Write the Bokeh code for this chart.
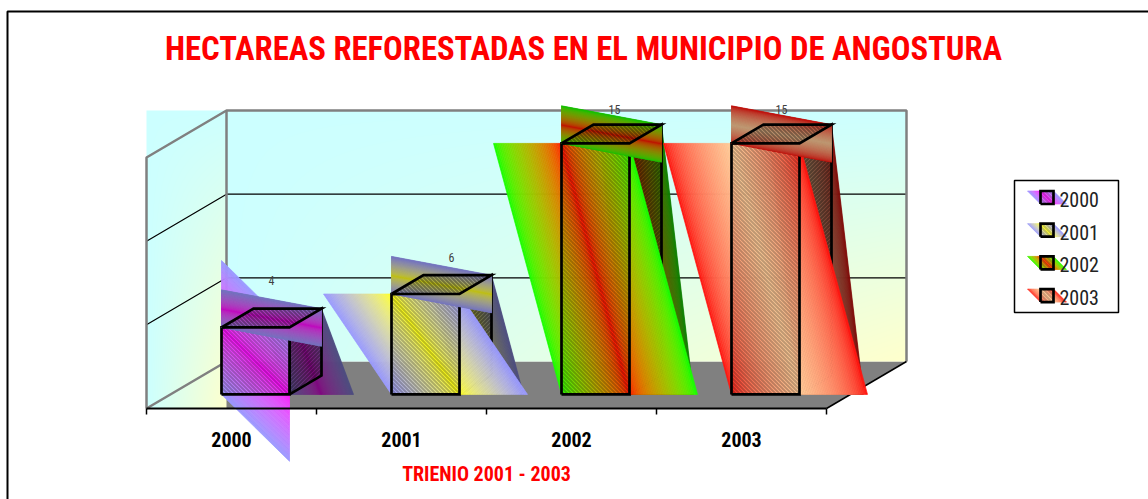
import numpy as np
from bokeh.plotting import figure
from bokeh.models import Range1d, FixedTicker
from bokeh.core.properties import value
from bokeh.embed import file_html
from bokeh.resources import INLINE

# ---- data
years = ["2000", "2001", "2002", "2003"]
hectares = [4, 6, 15, 15]
grid_values = [5, 10]
axis_top = 15
title_text = "HECTAREAS REFORESTADAS EN EL MUNICIPIO DE ANGOSTURA"
axis_title = "TRIENIO 2001 - 2003"
edge_colors = ["#9999FF", "#9999FF", "#00FF00", "#FF0000"]
center_colors = ["#FF00FF", "#FFFF00", "#FF0000", "#FFCC99"]

# ---- layout (pixels)
W, H = 1148, 499
X0, Y0 = 146, 408            # front-left floor corner
SX = 170.0                   # px per category
SY = 251.0 / 15              # px per hectare
DEPTH_X, DEPTH_Y = 80.0, 47.0
NARROW = "Roboto Condensed"
LABEL_DX = [0, 10, 3, 0]
LABEL_DY = [28, 18, 15, 15]

def fx(px):
    return (px - X0) / SX
def fy(py):
    return (Y0 - py) / SY

dx = DEPTH_X / SX
dy = DEPTH_Y / SY

p = figure(width=W, height=H, x_range=Range1d(fx(0), fx(W)), y_range=Range1d(fy(H), fy(0)),
           output_backend="svg", toolbar_location=None, min_border=0, y_axis_location=None,
           outline_line_color=None, background_fill_color="white", border_fill_color="white")
p.styles = {"position": "absolute", "left": "0px", "top": "0px"}
p.grid.visible = False

def rgb(c):
    return np.array([int(c[i:i + 2], 16) for i in (1, 3, 5)], float)
def mix(a, b, t, shade=1.0):
    v = np.sqrt(a * a * (1 - t) + b * b * t) * shade
    return "#%02x%02x%02x" % tuple(int(round(x)) for x in v)

def shard(x0, x1, y0, y1, edge, center, shade=1.0, n=40):
    """Gradient band that follows the box diagonal (top-left to bottom-right), as the source renderer drew it."""
    a, b = rgb(edge), rgb(center)
    w, h = x1 - x0, y1 - y0
    ts = np.linspace(-1, 1, 2 * n + 1)
    xs, ys, cs = [], [], []
    for t0, t1 in zip(ts[:-1], ts[1:]):
        if w * SX >= h * SY:   # wide box: sheared up and down
            xs.append([x0, x1, x1, x0])
            ys.append([y1 + t0 * h, y0 + t0 * h, y0 + t1 * h, y1 + t1 * h])
        else:                  # tall box: sheared sideways
            xs.append([x0 + t0 * w, x0 + t1 * w, x1 + t1 * w, x1 + t0 * w])
            ys.append([y1, y1, y0, y0])
        cs.append(mix(a, b, 1 - abs((t0 + t1) / 2), shade))
    p.patches(xs, ys, fill_color=cs, line_color=cs, line_width=0.7)

def face(xs, ys, alpha, sign=-1, spacing=4.0, width=2.0):
    """Dark diagonal stripes clipped to a convex face."""
    px = np.array(xs) * SX
    py = np.array(ys) * SY
    c = py - sign * px
    lx, ly = [], []
    for k in np.arange(np.floor(c.min() / spacing), np.ceil(c.max() / spacing) + 1):
        ck = k * spacing
        pts = []
        for j in range(len(px)):
            j2 = (j + 1) % len(px)
            c1, c2 = c[j] - ck, c[j2] - ck
            if c1 * c2 < 0:
                t = c1 / (c1 - c2)
                pts.append((px[j] + t * (px[j2] - px[j]), py[j] + t * (py[j2] - py[j])))
        if len(pts) == 2:
            lx.append([pts[0][0] / SX, pts[1][0] / SX])
            ly.append([pts[0][1] / SY, pts[1][1] / SY])
    p.multi_line(lx, ly, line_color="black", line_alpha=alpha, line_width=width, line_cap="butt")

def outline(xs, ys, width=2.7):
    p.line(list(xs) + [xs[0]], list(ys) + [ys[0]], line_color="black", line_width=width, line_join="miter")

def wall(px0, px1, py0, py1):
    nx, ny = int(px1 - px0), int(py1 - py0)
    u, v = np.meshgrid((np.arange(nx) + .5) / nx, (np.arange(ny) + .5) / ny)
    t = u * v
    top, bot = rgb("#CCFFFF"), rgb("#FFFFCC")
    img = np.zeros((ny, nx), dtype=np.uint32)
    view = img.view(dtype=np.uint8).reshape((ny, nx, 4))
    for k in range(3):
        view[..., k] = (top[k] + (bot[k] - top[k]) * t).round().astype(np.uint8)
    view[..., 3] = 255
    p.image_rgba(image=[img[::-1]], x=fx(px0), y=fy(py1), dw=fx(px1) - fx(px0), dh=fy(py0) - fy(py1))

n_cat = len(years)
# floor
p.patch([0, n_cat, n_cat + dx, dx], [0, 0, dy, dy], fill_color="#808080", line_color=None)
# walls
wall(146, 226, 110, 408)
wall(226, 906, 110, 361)
# gridlines
for g in grid_values:
    p.line([0, dx, dx + n_cat], [g, g + dy, g + dy], line_color="black", line_width=1.2)
# wall frame
GRAY = "#808080"
p.line([0, 0, dx, dx + n_cat, dx + n_cat], [0, axis_top, axis_top + dy, axis_top + dy, dy], line_color=GRAY, line_width=2.5)
p.line([0, dx, dx], [0, dy, axis_top + dy], line_color=GRAY, line_width=2.5)
p.line([n_cat, n_cat + dx], [0, dy], line_color="black", line_width=1.5)

# bars
front_d, back_d = 0.3, 0.7
for i, v in enumerate(hectares):
    x0 = i + 0.3 + front_d * dx
    x1 = x0 + 0.4
    yb = front_d * dy
    yt = yb + v
    ox, oy = (back_d - front_d) * dx, (back_d - front_d) * dy
    e, c = edge_colors[i], center_colors[i]
    # right side
    shard(x1, x1 + ox, yb, yt + oy, e, c, shade=0.5)
    sx, sy = [x1, x1 + ox, x1 + ox, x1], [yb, yb + oy, yt + oy, yt]
    face(sx, sy, 0.35, sign=1)
    outline(sx, sy)
    # front
    shard(x0, x1, yb, yt, e, c)
    fxs, fys = [x0, x1, x1, x0], [yb, yb, yt, yt]
    face(fxs, fys, 0.25)
    outline(fxs, fys)
    # top
    shard(x0, x1 + ox, yt, yt + oy, e, c, shade=0.75)
    txs, tys = [x0, x1, x1 + ox, x0 + ox], [yt, yt, yt + oy, yt + oy]
    face(txs, tys, 0.35)
    outline(txs, tys)
    # value label
    p.text([x1 + ox / 2 - 0.2 + LABEL_DX[i] / SX], [yt + oy + LABEL_DY[i] / SY], text=[str(v)],
           text_font=value(NARROW), text_font_size="12px", text_color="#404040",
           text_align="center", text_baseline="middle")

# axis
ax = p.xaxis[0]
ax.fixed_location = 0
ax.bounds = (0, n_cat)
ax.ticker = FixedTicker(ticks=[k + 0.5 for k in range(n_cat)], minor_ticks=list(range(n_cat + 1)))
ax.major_label_overrides = {k + 0.5: years[k] for k in range(n_cat)}
ax.major_tick_line_color = None
ax.minor_tick_in = 0
ax.minor_tick_out = 6
ax.minor_tick_line_color = "black"
ax.minor_tick_line_width = 1.5
ax.axis_line_color = "black"
ax.axis_line_width = 2
ax.major_tick_out = 0
ax.major_label_standoff = 17
ax.major_label_text_font = NARROW
ax.major_label_text_font_style = "bold"
ax.major_label_text_font_size = "20px"
ax.major_label_text_color = "black"

# titles
p.text([fx(583)], [fy(48)], text=[title_text], text_font=value(NARROW), text_font_style="bold",
       text_font_size="32.7px", text_color="#FF0000", text_align="center", text_baseline="middle")
p.text([fx(486)], [fy(473)], text=[axis_title], text_font=value(NARROW), text_font_style="bold",
       text_font_size="20px", text_color="#FF0000", text_align="center", text_baseline="middle")

# chart frame
p.line([fx(7), fx(7), fx(W)], [fy(H), fy(11), fy(11)], line_color="black", line_width=2)

# legend
p.quad(left=fx(1014), right=fx(1118), top=fy(180), bottom=fy(312), fill_color="white", line_color="black", line_width=1.5)
for i, y in enumerate(years):
    cy = 197 + i * 32.7
    lx0, lx1, ly0, ly1 = fx(1040), fx(1053), fy(cy + 6.5), fy(cy - 6.5)
    shard(lx0, lx1, ly0, ly1, edge_colors[i], center_colors[i], n=8)
    sq_x, sq_y = [lx0, lx1, lx1, lx0], [ly0, ly0, ly1, ly1]
    face(sq_x, sq_y, 0.2)
    outline(sq_x, sq_y)
    p.text([fx(1059)], [fy(cy + 2)], text=[y], text_font=value(NARROW), text_font_size="20px",
           text_color="#222222", text_align="left", text_baseline="middle")

open("out.html", "w").write(file_html(p, INLINE))
